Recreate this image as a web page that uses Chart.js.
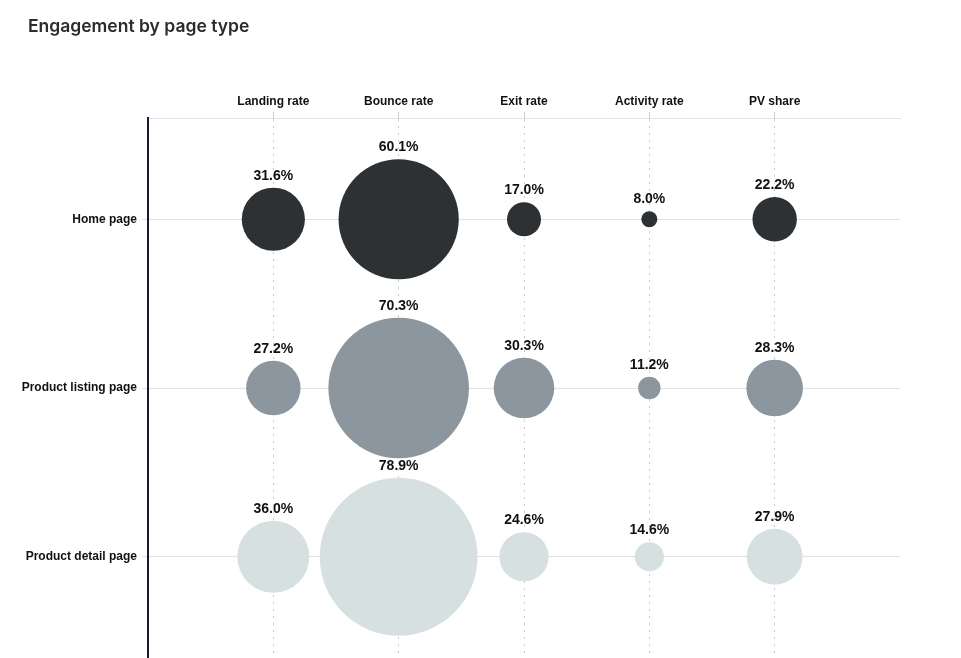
<!DOCTYPE html>
<html>
<head>
<meta charset="utf-8">
<script src="https://cdn.jsdelivr.net/npm/chart.js@4/dist/chart.umd.min.js"></script>
<style>
html,body{margin:0;padding:0;background:#fff;}
#wrap{width:961px;height:658px;position:relative;}
</style>
</head>
<body>
<div id="wrap"><canvas id="c"></canvas></div>
<script>
const chartTitle = "Engagement by page type";
const metrics = ["Landing rate", "Bounce rate", "Exit rate", "Activity rate", "PV share"];
const pageTypes = ["Home page", "Product listing page", "Product detail page"];
const homeValues = [31.6, 60.1, 17.0, 8.0, 22.2];
const listingValues = [27.2, 70.3, 30.3, 11.2, 28.3];
const detailValues = [36.0, 78.9, 24.6, 14.6, 27.9];
const seriesColors = ["#2e3134", "#8c969e", "#d6e0e0"];
const seriesValues = [homeValues, listingValues, detailValues];

const datasets = pageTypes.map((name, row) => ({
  label: name,
  data: seriesValues[row].map((v, col) => ({ x: col, y: row, r: v, v: v })),
  backgroundColor: seriesColors[row],
  borderColor: seriesColors[row],
  borderWidth: 0,
  hoverRadius: 0,
  clip: false
}));

const labelPlugin = {
  id: 'bubbleLabels',
  afterDatasetsDraw(chart) {
    const ctx = chart.ctx;
    ctx.save();
    ctx.font = "bold 14px 'Liberation Sans', Arial, sans-serif";
    ctx.fillStyle = "#111";
    ctx.textAlign = "center";
    ctx.textBaseline = "middle";
    chart.data.datasets.forEach((ds, i) => {
      const meta = chart.getDatasetMeta(i);
      meta.data.forEach((el, j) => {
        const r = el.options.radius;
        ctx.fillText(ds.data[j].v.toFixed(1) + "%", el.x, el.y - r - 12);
      });
    });
    ctx.restore();
  }
};

const titlePlugin = {
  id: 'leftTitle',
  afterDraw(chart) {
    const ctx = chart.ctx;
    ctx.save();
    ctx.font = "600 17.5px Inter, 'Noto Sans', sans-serif";
    ctx.fillStyle = "#2b2b2b";
    ctx.textAlign = "left";
    ctx.textBaseline = "middle";
    ctx.fillText(chartTitle, 28, 27);
    ctx.restore();
  }
};

new Chart(document.getElementById('c'), {
  type: 'bubble',
  data: { datasets },
  plugins: [labelPlugin, titlePlugin],
  options: {
    responsive: true,
    maintainAspectRatio: false,
    animation: false,
    layout: { autoPadding: false, padding: { left: 4, right: 61, top: 36, bottom: 0 } },
    plugins: {
      legend: { display: false },
      tooltip: { enabled: false },
      title: { display: false }
    },
    scales: {
      x: {
        type: 'linear',
        position: 'top',
        min: -1,
        max: 5,
        afterBuildTicks(scale) { scale.ticks = metrics.map((m, i) => ({ value: i })); },
        afterFit(scale) { scale.height = 118 - 36; scale.paddingLeft = 0; scale.paddingRight = 0; },
        ticks: {
          callback: (v) => metrics[v] ?? '',
          color: "#111",
          font: { family: "'Liberation Sans', Arial, sans-serif", size: 12, weight: 'bold' },
          padding: 3,
          maxRotation: 0,
          autoSkip: false
        },
        grid: {
          color: "#cccccc",
          lineWidth: 1,
          tickLength: 6,
          drawOnChartArea: true
        },
        border: { display: true, color: "#e2e2e2", dash: [2, 5], width: 1 }
      },
      y: {
        type: 'linear',
        reverse: true,
        min: -0.6,
        max: 2.6,
        afterBuildTicks(scale) { scale.ticks = pageTypes.map((p, i) => ({ value: i })); },
        afterFit(scale) { scale.width = 144; scale.paddingTop = 0; scale.paddingBottom = 0; },
        ticks: {
          callback: (v) => pageTypes[v] ?? '',
          color: "#111",
          font: { family: "'Liberation Sans', Arial, sans-serif", size: 12, weight: 'bold' },
          padding: 5,
          autoSkip: false
        },
        grid: { color: "#e2e2e2", lineWidth: 1, tickLength: 6 },
        border: { display: true, color: "#1b1446", width: 2 }
      }
    }
  }
});
</script>
</body>
</html>
